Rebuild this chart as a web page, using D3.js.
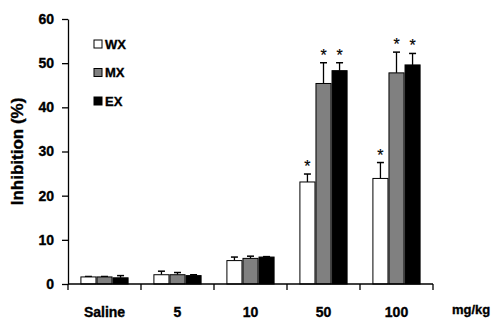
<!DOCTYPE html>
<html>
<head>
<meta charset="utf-8">
<script src="https://cdn.jsdelivr.net/npm/d3@7"></script>
<style>
  body { margin: 0; background: #fff; }
  text { font-family: 'Liberation Sans', Arial, sans-serif; font-weight: bold; stroke: #000; stroke-width: 0.35px; }
</style>
</head>
<body>
<div id="chart"></div>
<script>
var categories = ["Saline", "5", "10", "50", "100"];
var series = ["WX", "MX", "EX"];
var colors = ["#ffffff", "#808080", "#000000"];
// mean values per series, one per category
var wx = [1.6, 2.1, 5.3, 23.1, 23.9];
var mx = [1.6, 2.1, 5.8, 45.4, 47.8];
var ex = [1.4, 1.9, 6.1, 48.3, 49.6];
// error (upper SD)
var wxErr = [0.1, 0.8, 0.8, 1.8, 3.6];
var mxErr = [0.1, 0.5, 0.5, 4.7, 4.7];
var exErr = [0.5, 0.2, 0.1, 1.8, 2.6];
// significance marks
var wxSig = [false, false, false, true, true];
var mxSig = [false, false, false, true, true];
var exSig = [false, false, false, true, true];
var yTicks = [0, 10, 20, 30, 40, 50, 60];

var width = 491, height = 322;
var margin = {top: 19, right: 58, bottom: 38, left: 68};

var svg = d3.select("#chart").append("svg")
  .attr("width", width)
  .attr("height", height);

var x0 = d3.scaleBand().domain(categories)
  .range([margin.left, width - margin.right])
  .paddingInner(0.34).paddingOuter(0.17);
var x1 = d3.scaleBand().domain(series).range([0, x0.bandwidth()]);
var y = d3.scaleLinear().domain([0, 60]).range([height - margin.bottom, margin.top]);

var table = [
  {name: "WX", vals: wx, err: wxErr, sig: wxSig, color: colors[0]},
  {name: "MX", vals: mx, err: mxErr, sig: mxSig, color: colors[1]},
  {name: "EX", vals: ex, err: exErr, sig: exSig, color: colors[2]}
];

var rows = [];
table.forEach(function (s) {
  categories.forEach(function (c, i) {
    rows.push({series: s.name, cat: c, v: s.vals[i], e: s.err[i], sig: s.sig[i], color: s.color});
  });
});

// error bars
var eb = svg.append("g").selectAll("g").data(rows).enter().append("g")
  .attr("transform", function (d) { return "translate(" + (x0(d.cat) + x1(d.series) + x1.bandwidth() / 2) + ",0)"; });
eb.append("line")
  .attr("x1", 0).attr("x2", 0)
  .attr("y1", function (d) { return y(d.v); })
  .attr("y2", function (d) { return y(d.v + d.e); })
  .attr("stroke", "#000").attr("stroke-width", 1.3);
eb.append("line")
  .attr("x1", -3.5).attr("x2", 3.5)
  .attr("y1", function (d) { return y(d.v + d.e); })
  .attr("y2", function (d) { return y(d.v + d.e); })
  .attr("stroke", "#000").attr("stroke-width", 1.5);

// bars
svg.append("g").selectAll("rect").data(rows).enter().append("rect")
  .attr("x", function (d) { return x0(d.cat) + x1(d.series) + 0.5; })
  .attr("width", x1.bandwidth() - 1)
  .attr("y", function (d) { return y(d.v); })
  .attr("height", function (d) { return y(0) - y(d.v); })
  .attr("fill", function (d) { return d.color; })
  .attr("stroke", "#000")
  .attr("stroke-width", 1);

// stars
svg.append("g").selectAll("text").data(rows.filter(function (d) { return d.sig; })).enter().append("text")
  .attr("x", function (d) { return x0(d.cat) + x1(d.series) + x1.bandwidth() / 2; })
  .attr("y", function (d) { return y(d.v + d.e) - 2; })
  .attr("text-anchor", "middle")
  .attr("font-size", "16px")
  .style("font-weight", "normal")
  .style("stroke-width", "0.2px")
  .text("*");

// y axis
var yAxis = svg.append("g")
  .attr("transform", "translate(" + margin.left + ",0)")
  .call(d3.axisLeft(y).tickValues(yTicks).tickSize(6).tickSizeOuter(0).tickPadding(8));
yAxis.select(".domain").attr("stroke", "#000").attr("stroke-width", 1.3);
yAxis.selectAll(".tick line").attr("stroke", "#000").attr("stroke-width", 1.3);
yAxis.selectAll(".tick text").attr("font-size", "14px").attr("fill", "#000")
  .style("font-family", "'Liberation Sans', Arial, sans-serif").style("font-weight", "bold");

// x axis line + boundary ticks
var xg = svg.append("g");
xg.append("line")
  .attr("x1", margin.left).attr("x2", width - margin.right)
  .attr("y1", y(0)).attr("y2", y(0))
  .attr("stroke", "#000").attr("stroke-width", 1.3);
var bounds = d3.range(categories.length + 1).map(function (i) { return margin.left + i * x0.step(); });
xg.selectAll(".bt").data(bounds).enter().append("line")
  .attr("x1", function (d) { return d; }).attr("x2", function (d) { return d; })
  .attr("y1", y(0)).attr("y2", y(0) + 6)
  .attr("stroke", "#000").attr("stroke-width", 1.3);
xg.selectAll(".lbl").data(categories).enter().append("text")
  .attr("x", function (d) { return x0(d) + x0.bandwidth() / 2; })
  .attr("y", y(0) + 33)
  .attr("text-anchor", "middle")
  .attr("font-size", "14px")
  .text(function (d) { return d; });

svg.append("text")
  .attr("x", 452).attr("y", y(0) + 30)
  .attr("font-size", "13px")
  .text("mg/kg");

// y label
svg.append("text")
  .attr("transform", "translate(23," + ((y(0) + y(60)) / 2) + ") rotate(-90)")
  .attr("text-anchor", "middle")
  .attr("font-size", "17px")
  .text("Inhibition (%)");

// legend
var leg = svg.append("g").selectAll("g").data(table).enter().append("g")
  .attr("transform", function (d, i) { return "translate(94," + (40 + i * 28.5) + ")"; });
leg.append("rect")
  .attr("width", 8).attr("height", 8)
  .attr("fill", function (d) { return d.color; })
  .attr("stroke", "#000").attr("stroke-width", 1);
leg.append("text")
  .attr("x", 11).attr("y", 8.5)
  .attr("font-size", "13px")
  .text(function (d) { return d.name; });
</script>
</body>
</html>
